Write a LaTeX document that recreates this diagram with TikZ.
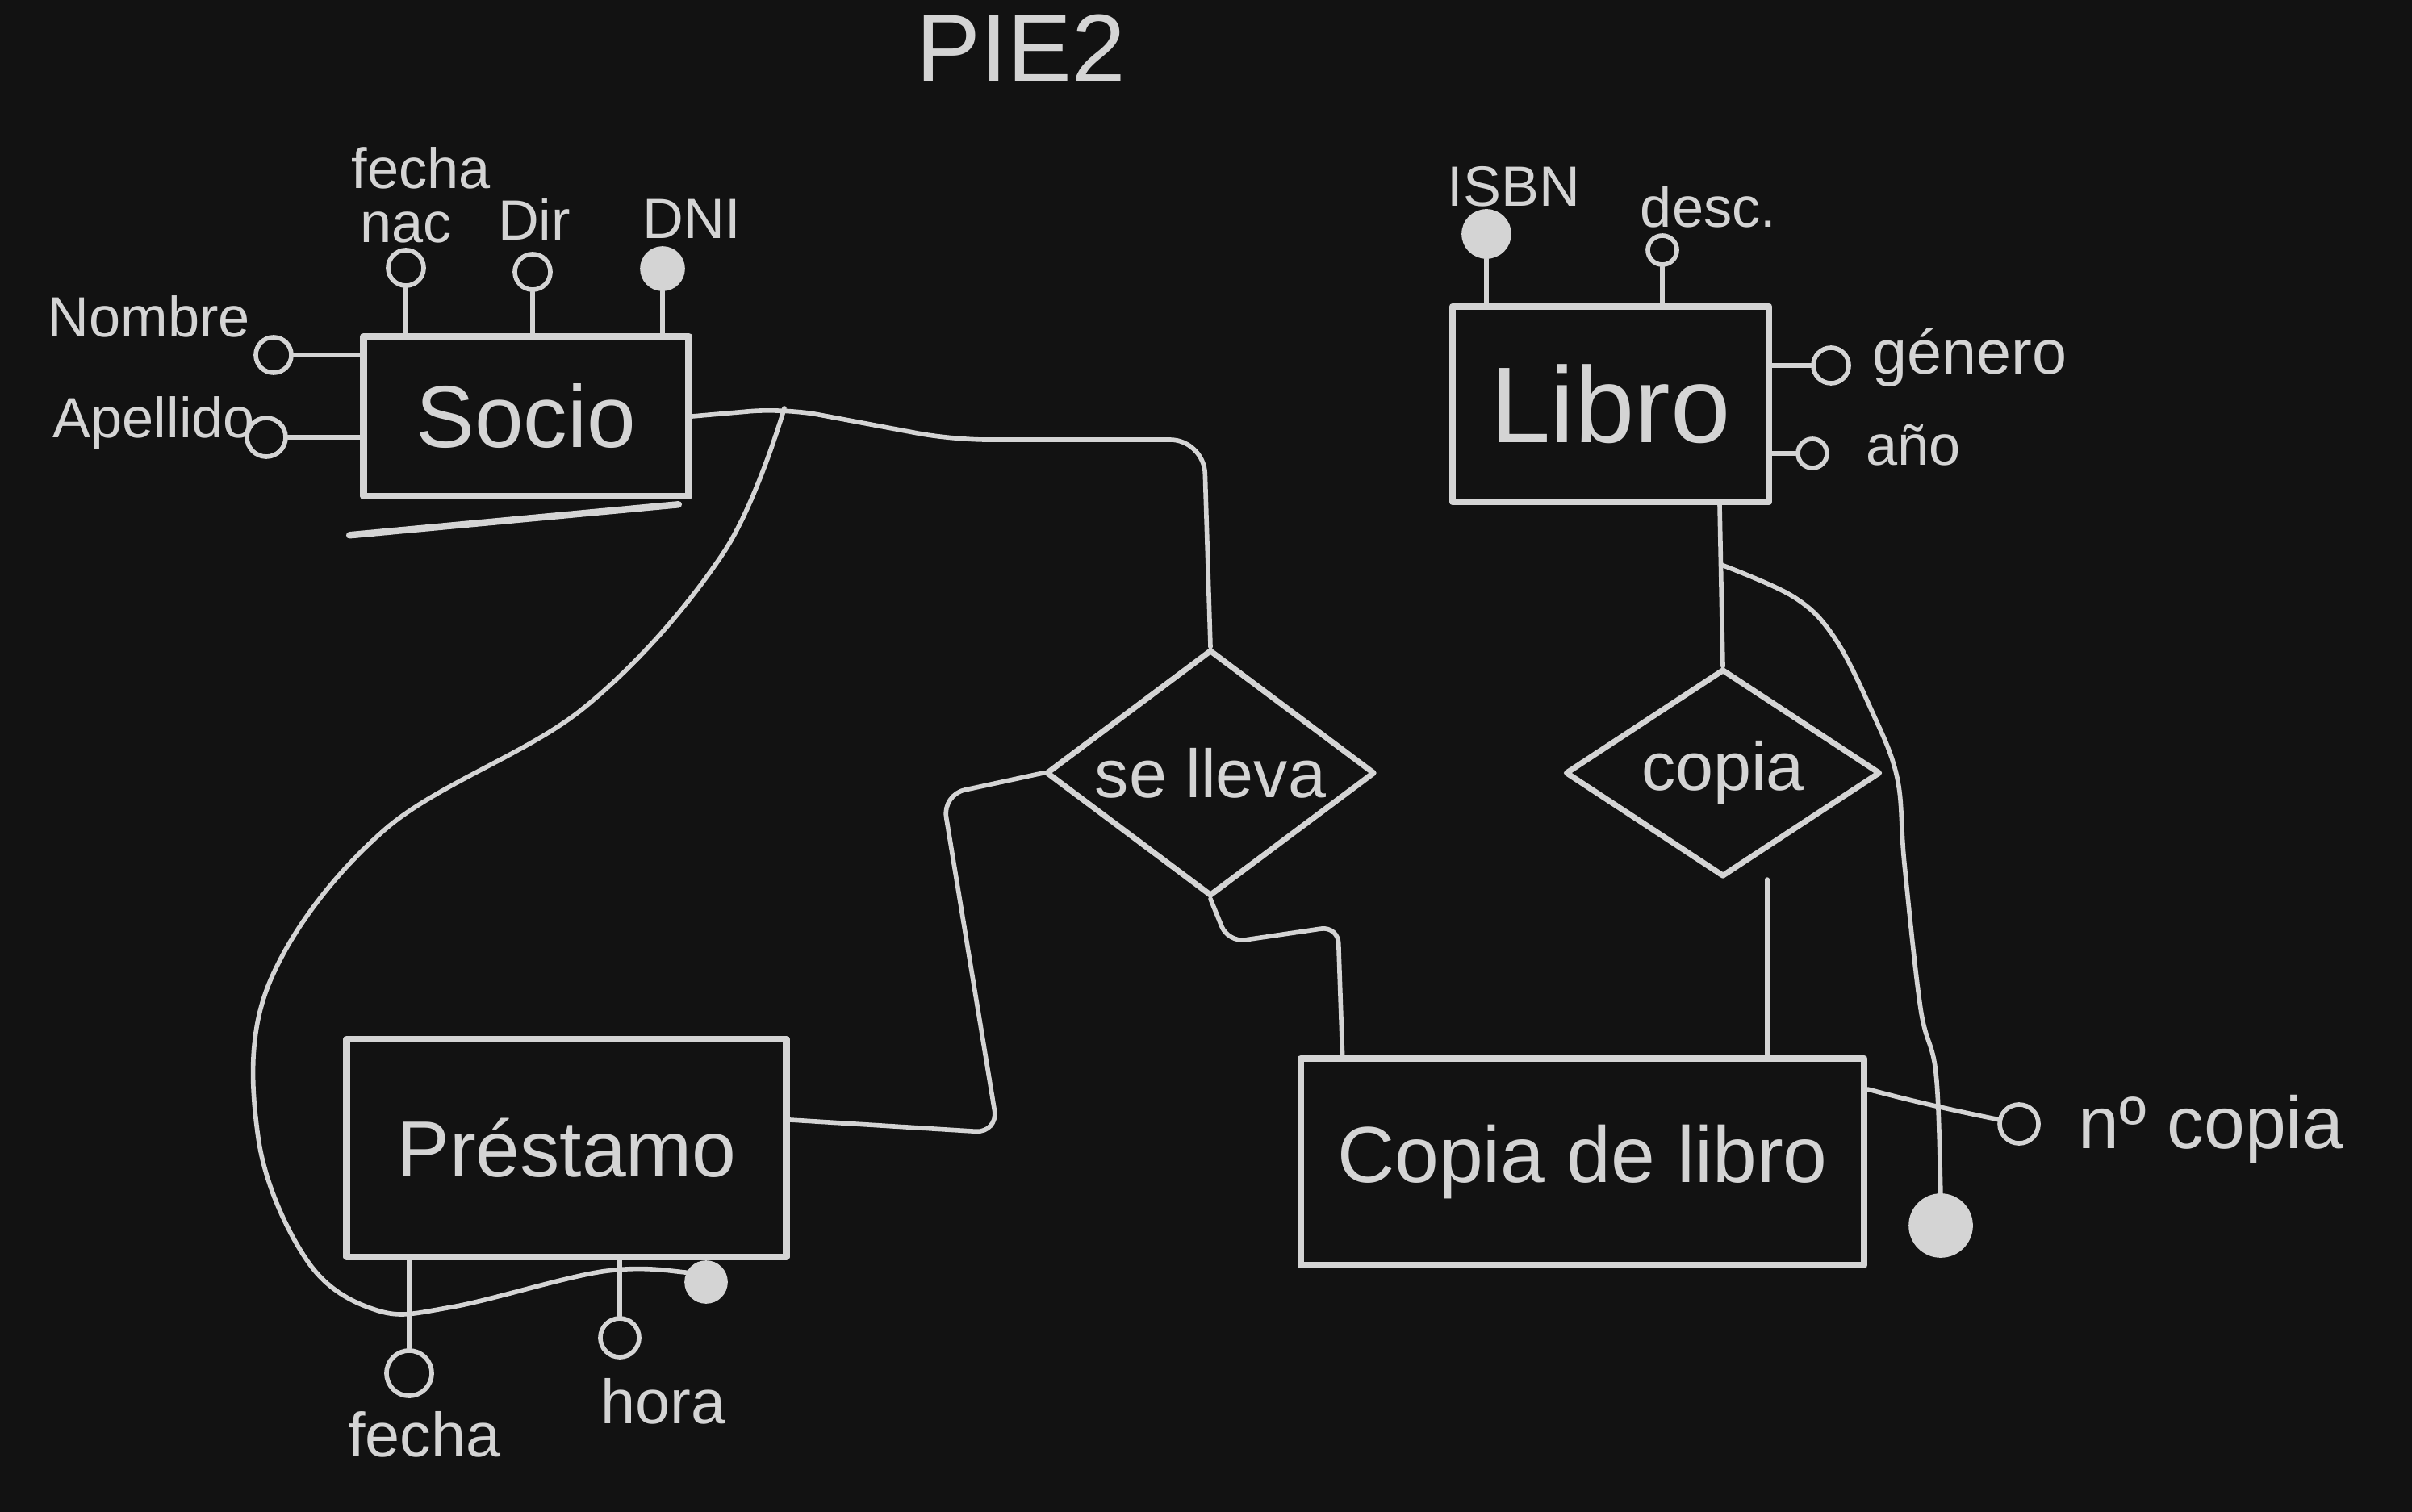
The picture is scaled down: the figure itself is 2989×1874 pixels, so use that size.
\documentclass[tikz,border=0pt]{standalone}
\usepackage{fontspec}
\setmainfont{Liberation Sans}
\usepackage{tikz}
\usetikzlibrary{shapes.geometric}
\definecolor{chalk}{HTML}{D4D4D4}
\definecolor{board}{HTML}{121212}

\begin{document}
\begin{tikzpicture}[
    x=0.01cm, y=-0.01cm,
    color=chalk,
    line width=1.6pt,
    line cap=round, line join=round,
    entity/.style={draw, line width=2.4pt, inner sep=0pt},
    relation/.style={draw, diamond, line width=2pt, inner sep=0pt},
    attr/.style={draw, circle, line width=1.6pt, inner sep=0pt, minimum size=0.44cm},
    idattr/.style={attr, fill=chalk},
    attrtext/.style={inner sep=0pt}]

      \useasboundingbox (0,0) rectangle (2989,1874);
      \fill[board] (0,0) rectangle (2989,1874);

      {\fontsize{34}{40}\selectfont
      \node[attrtext] (title) at (1265,60) {PIE2};
      }

      % entidades
      {\fontsize{31}{36}\selectfont
      \node[entity, minimum width=4.03cm, minimum height=1.98cm] (socio) at (652,516) {Socio};
      }
      {\fontsize{38}{44}\selectfont
      \node[entity, minimum width=3.92cm, minimum height=2.42cm] (libro) at (1996,501) {Libro};
      }
      {\fontsize{28}{34}\selectfont
      \node[entity, minimum width=5.45cm, minimum height=2.70cm] (prestamo) at (702,1423) {Préstamo};
      \node[entity, minimum width=6.98cm, minimum height=2.56cm] (copialibro) at (1961,1440) {Copia de libro};
      }

      % relaciones
      {\fontsize{24}{28}\selectfont
      \node[relation, aspect=1.33, minimum width=4.07cm, minimum height=3.05cm] (selleva) at (1500,958) {se lleva};
      \node[relation, aspect=1.53, minimum width=3.9cm, minimum height=2.57cm] (copia) at (2135,958) {copia};
      }

      % atributos
      \node[attr] (a-fnac) at (503,332) {};
      \node[attr] (a-dir) at (660,337) {};
      \node[idattr, minimum size=0.5cm] (a-dni) at (821,333) {};
      \node[attr] (a-nombre) at (339,440) {};
      \node[attr, minimum size=0.48cm] (a-apellido) at (330,542) {};
      \node[idattr, minimum size=0.56cm] (a-isbn) at (1842,290) {};
      \node[attr, minimum size=0.36cm] (a-desc) at (2060,310) {};
      \node[attr] (a-genero) at (2269,453) {};
      \node[attr, minimum size=0.36cm] (a-anio) at (2246,562) {};
      \node[attr, minimum size=0.56cm] (a-fecha) at (507,1702) {};
      \node[attr, minimum size=0.48cm] (a-hora) at (768,1658) {};
      \node[idattr, minimum size=0.48cm] (a-idprest) at (875,1589) {};
      \node[attr, minimum size=0.48cm] (a-ncopia) at (2502,1393) {};
      \node[idattr, minimum size=0.74cm] (a-idcopia) at (2405,1519) {};

      {\fontsize{20}{24}\selectfont
      \node[attrtext] (t-fnac1) at (522,208) {fecha};
      \node[attrtext] (t-fnac2) at (503,282) {nac};
      \node[attrtext] (t-dir) at (662,272) {Dir};
      \node[attrtext] (t-dni) at (857,271) {DNI};
      \node[attrtext] (t-nombre) at (185,392) {Nombre};
      \node[attrtext] (t-apellido) at (191,524) {Apellido};
      \node[attrtext] (t-isbn) at (1876,231) {ISBN};
      \node[attrtext] (t-desc) at (2117,256) {desc.};
      \node[attrtext] (t-anio) at (2371,552) {año};
      }
      {\fontsize{22}{26}\selectfont
      \node[attrtext] (t-genero) at (2441,443) {género};
      \node[attrtext] (t-fecha) at (526,1778) {fecha};
      \node[attrtext] (t-hora) at (822,1737) {hora};
      }
      {\fontsize{26}{30}\selectfont
      \node[attrtext] (t-ncopia) at (2740,1400) {nº copia};
      }

      % atributos -- entidades
      \foreach \a in {a-fnac, a-dir, a-dni}
        \draw (\a) -- (\a |- socio.north);
      \foreach \a in {a-nombre, a-apellido}
        \draw (\a) -- (\a -| socio.west);
      \foreach \a in {a-isbn, a-desc}
        \draw (\a) -- (\a |- libro.north);
      \foreach \a in {a-genero, a-anio}
        \draw (\a) -- (\a -| libro.east);
      \foreach \a in {a-fecha, a-hora}
        \draw (\a) -- (\a |- prestamo.south);
      \draw ([shift={(0,-90)}]copialibro.east) .. controls (2390,1370) and (2440,1380) .. (a-ncopia);

      % trazo doble bajo Socio
      \draw[line width=2.4pt] ([shift={(-13,44)}]socio.south west) -- ([shift={(-17,6)}]socio.south east);

      % se lleva
      \coordinate (split) at (972,506);
      \draw[rounded corners=12pt] (socio.east) -- (split) -- (1180,545) -- (1492,545) -- (selleva.north);
      \draw[rounded corners=8pt] ([shift={(0,-35)}]prestamo.east) -- (1237,1404) -- (1168,985) -- (selleva.west);
      \draw[rounded corners=6pt] (selleva.south) -- (1522,1168) -- (1658,1148) -- ([shift={(56,0)}]copialibro.north west);
      \draw plot[smooth, tension=0.6] coordinates {(split) (896,686) (724,877) (476,1029) (333,1220) (320,1410) (381,1563) (467,1624) (560,1620) (746,1576) (849,1577) (a-idprest)};

      % copia
      \coordinate (libro-out) at ([shift={(135,0)}]libro.south);
      \coordinate (lsplit) at (2133,700);
      \coordinate (copia-out) at ([shift={(55,0)}]copia.south);
      \draw (libro-out) -- (copia.north);
      \draw (copia-out) -- (copia-out |- copialibro.north);
      \draw plot[smooth, tension=0.6] coordinates {(lsplit) (2223,740) (2273,790) (2319,880) (2351,964) (2360,1071) (2380,1250) (2399,1330) (2405,1483) (a-idcopia)};

\end{tikzpicture}
\end{document}
